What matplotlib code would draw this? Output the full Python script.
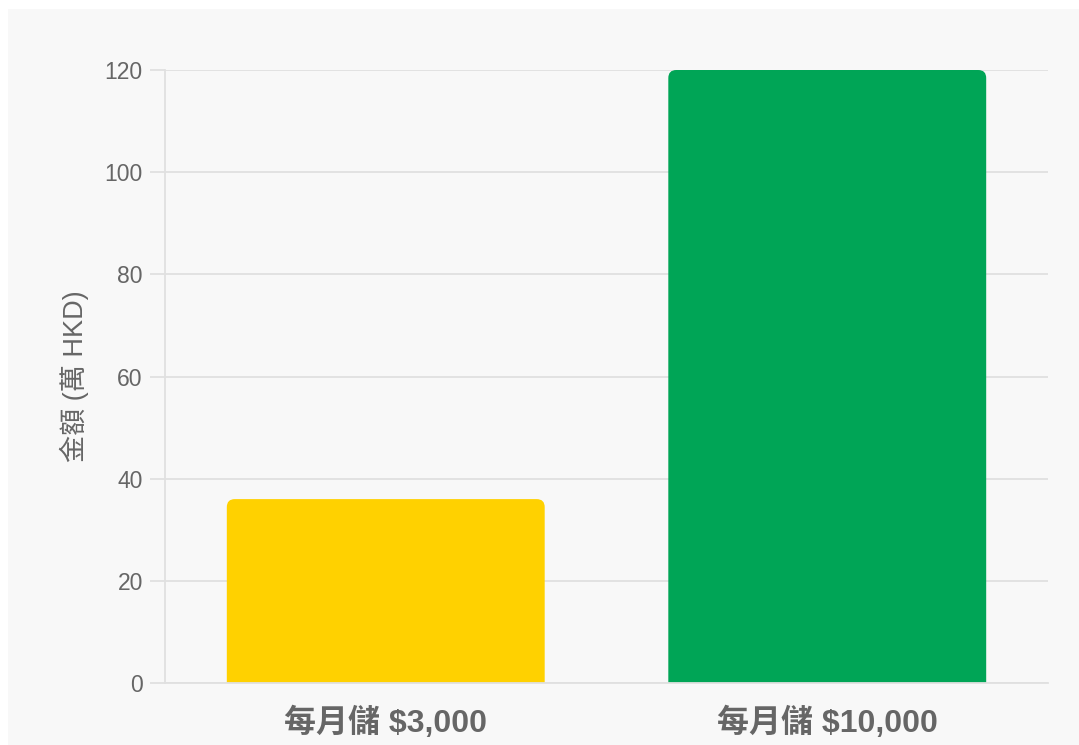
import matplotlib
matplotlib.use("Agg")
import matplotlib.pyplot as plt
from matplotlib.patches import FancyBboxPatch, Rectangle

# data
categories = ["每月儲 $3,000", "每月儲 $10,000"]
amounts = [36, 120]          # 萬 HKD
bar_colors = ["#FFD100", "#00A556"]
y_ticks = [0, 20, 40, 60, 80, 100, 120]

plt.rcParams["font.family"] = ["Liberation Sans", "Noto Sans CJK TC", "DejaVu Sans"]

W, H = 1079, 745
fig = plt.figure(figsize=(W / 100, H / 100), dpi=100, facecolor="white")

# light grey panel behind the chart
fig.patches.append(Rectangle((8 / W, 0), 1 - 8 / W, 1 - 9 / H,
                             transform=fig.transFigure, facecolor="#f8f8f8",
                             edgecolor="none", zorder=-10))

left, right, top, bottom = 165, 1048, 70, 683
ax = fig.add_axes([left / W, 1 - bottom / H, (right - left) / W, (bottom - top) / H])
ax.set_facecolor("none")

x = list(range(len(categories)))
bars = ax.bar(x, amounts, width=0.72, color=bar_colors)

ax.set_xlim(-0.5, 1.5)
ax.set_ylim(0, 120)

# swap the square bars for ones with rounded top corners
radius_px = 8
px_x = (right - left) / 2.0
px_y = (bottom - top) / 120.0
rx = radius_px / px_x
ry = radius_px / px_y
for b in bars:
    b.set_visible(False)
    bx, bw, bh = b.get_x(), b.get_width(), b.get_height()
    p = FancyBboxPatch((bx, -ry * 2), bw, bh + ry * 2,
                       boxstyle="round,pad=0,rounding_size=%f" % rx,
                       mutation_aspect=ry / rx,
                       facecolor=b.get_facecolor(), edgecolor="none",
                       zorder=2, clip_on=True)
    ax.add_patch(p)

grid_c = "#e0e0e0"
ax.set_yticks(y_ticks)
ax.yaxis.grid(True, color=grid_c, linewidth=1.3)
ax.set_axisbelow(True)
for s in ["top", "right"]:
    ax.spines[s].set_visible(False)
for s in ["left", "bottom"]:
    ax.spines[s].set_color(grid_c)
    ax.spines[s].set_linewidth(1.3)
    ax.spines[s].set_zorder(3)

ax.tick_params(axis="y", length=11, width=1.3, color=grid_c, pad=5,
               labelsize=16.5, labelcolor="#666666")
ax.tick_params(axis="x", length=0, pad=17)
ax.set_xticks(x)
ax.set_xticklabels(categories, fontsize=23, fontweight="bold", color="#666666")

ax.set_ylabel("金額 (萬 HKD)", fontsize=19.5, color="#666666", labelpad=11)

fig.savefig("out.png", dpi=100, facecolor="white")
